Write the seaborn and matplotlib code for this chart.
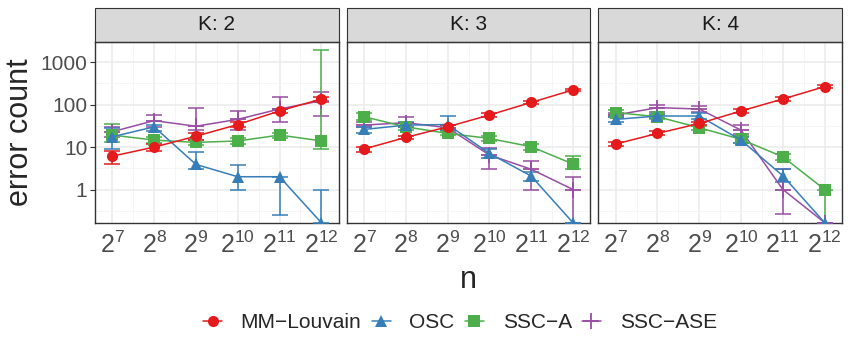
import numpy as np
import pandas as pd
import matplotlib
matplotlib.use('Agg')
import matplotlib.pyplot as plt
import seaborn as sns
from matplotlib.patches import Rectangle
from matplotlib.lines import Line2D
from matplotlib.ticker import FixedLocator, NullFormatter

# x values and facets
n = [128, 256, 512, 1024, 2048, 4096]
x_labels = [r'$\mathregular{2^{7}}$', r'$\mathregular{2^{8}}$', r'$\mathregular{2^{9}}$',
            r'$\mathregular{2^{10}}$', r'$\mathregular{2^{11}}$', r'$\mathregular{2^{12}}$']
panels = ['K: 2', 'K: 3', 'K: 4']
methods = ['MM\u2212Louvain', 'OSC', 'SSC\u2212A', 'SSC\u2212ASE']

# values per method: K=2 (6 values), K=3 (6), K=4 (6); 0 means no errors
louvain_mean = [6.1, 10, 18, 34, 71, 136,   9.0, 16.9, 30, 57, 113, 222,   11.8, 21, 36, 71, 136, 266]
louvain_lo   = [4.0, 8.1, 15, 29, 62, 118,  7.8, 15.5, 27, 52, 104, 205,   10.5, 19, 33, 65, 125, 245]
louvain_hi   = [8.2, 12, 21, 40, 80, 150,   10.3, 18.5, 33, 62, 122, 240,  13.2, 23.5, 40, 77, 148, 290]

osc_mean = [17.5, 30, 3.9, 2.0, 2.0, 0,   26, 33, 34, 7.1, 2.07, 0,   45, 54, 54, 14.6, 2.1, 0]
osc_lo   = [9.0, 24, 3.1, 1.0, 0.25, 0,   22, 29, 25, 5.5, 1.6, 0,    40, 48, 45, 12.5, 1.5, 0]
osc_hi   = [28, 34, 7.7, 3.7, 2.0, 1.0,   30, 38, 54, 9.0, 2.6, 0,    50, 60, 62, 17, 3.0, 0]

ssca_mean = [19.2, 14.6, 12.9, 13.9, 19.2, 14,   52, 30, 21, 16, 10.2, 4.0,   65, 52, 28.6, 15.2, 5.9, 1.0]
ssca_lo   = [13.4, 12.5, 11.5, 12, 16.5, 9.0,    44, 25, 19, 14, 8.5, 3.1,    56, 46, 25, 12.5, 5.0, 0]
ssca_hi   = [35, 17, 14.5, 16, 22, 1950,         62, 36, 24, 18.5, 12, 6.0,   74, 58, 32, 18, 7.0, 1.0]

sscase_mean = [23, 42, 31, 45, 79, 124,   33, 37.6, 28.6, 6.5, 3.0, 1.0,   57, 85, 79, 25, 1.0, 0]
sscase_lo   = [17, 30, 25, 25, 38, 54,    29, 30, 25, 3.0, 1.0, 0,         50, 68, 66, 20, 0.26, 0]
sscase_hi   = [29, 58, 82, 72, 150, 195,  38, 52, 33, 9.3, 4.75, 2.0,      64, 100, 95, 33, 3.0, 0]

colors = ['#E41A1C', '#377EB8', '#4DAF4A', '#984EA3']
markers = ['o', '^', 's', '+']
msizes = [8, 9, 8, 12]

means = [louvain_mean, osc_mean, ssca_mean, sscase_mean]
los = [louvain_lo, osc_lo, ssca_lo, sscase_lo]
his = [louvain_hi, osc_hi, ssca_hi, sscase_hi]

rows = []
for m, mean, lo, hi in zip(methods, means, los, his):
    for i, k in enumerate(panels):
        for j, nv in enumerate(n):
            idx = i * 6 + j
            rows.append({'method': m, 'K': k, 'n': nv, 'err': mean[idx], 'lo': lo[idx], 'hi': hi[idx]})
df = pd.DataFrame(rows)

sns.set_theme(style='white')
plt.rcParams['font.family'] = ['Liberation Sans', 'DejaVu Sans']
plt.rcParams['mathtext.fontset'] = 'custom'
plt.rcParams['mathtext.rm'] = 'Liberation Sans'
plt.rcParams['mathtext.it'] = 'Liberation Sans:italic'
plt.rcParams['mathtext.bf'] = 'Liberation Sans:bold'

ymin, ymax = 0.165, 3000
xmin, xmax = 2 ** (7 - 0.415), 2 ** (12 + 0.415)

fig, axes = plt.subplots(1, 3, figsize=(8.5, 3.5), dpi=100, sharey=True)
fig.subplots_adjust(left=95 / 850, right=842 / 850, top=1 - 42 / 350, bottom=1 - 222.7 / 350, wspace=0.033)

for ax, k in zip(axes, panels):
    ax.set_xscale('log', base=2)
    ax.set_yscale('log')
    ax.set_xlim(xmin, xmax)
    ax.set_ylim(ymin, ymax)
    sub_k = df[df['K'] == k]
    # draw in reverse so MM-Louvain ends up on top
    for m, c, mk, ms in list(zip(methods, colors, markers, msizes))[::-1]:
        sub = sub_k[sub_k['method'] == m].copy()
        sub['y'] = np.where(sub['err'] > 0, sub['err'], ymin)
        lo = np.where(sub['lo'] > 0, sub['lo'], ymin)
        hi = np.where(sub['hi'] > 0, sub['hi'], ymin)
        ax.errorbar(sub['n'], sub['y'], yerr=[sub['y'] - lo, hi - sub['y']], fmt='none',
                    ecolor=c, elinewidth=1.1, capsize=5.5, capthick=1.1, zorder=3)
        sns.lineplot(data=sub, x='n', y='y', color=c, marker=mk, markersize=ms,
                     mec=c, mew=1.3 if mk == '+' else 0, linewidth=1.1,
                     errorbar=None, ax=ax, zorder=4)
    ax.set_xticks(n)
    ax.set_xticklabels(x_labels, fontsize=18)
    ax.xaxis.set_minor_locator(FixedLocator([2 ** (e + 0.5) for e in range(7, 12)]))
    ax.xaxis.set_minor_formatter(NullFormatter())
    ax.set_yticks([1, 10, 100, 1000])
    ax.set_yticklabels(['1', '10', '100', '1000'], fontsize=15)
    ax.yaxis.set_minor_locator(FixedLocator([10 ** (e + 0.5) for e in range(-1, 3)]))
    ax.yaxis.set_minor_formatter(NullFormatter())
    ax.grid(which='major', color='#EBEBEB', linewidth=1.1, zorder=0)
    ax.grid(which='minor', color='#F4F4F4', linewidth=0.6, zorder=0)
    ax.set_axisbelow(True)
    ax.tick_params(which='major', length=3.5, width=0.8, color='#333333', labelcolor='#4D4D4D', pad=2)
    ax.tick_params(axis='x', pad=3)
    ax.tick_params(which='minor', length=0)
    ax.tick_params(axis='y', left=(ax is axes[0]))
    for s in ax.spines.values():
        s.set_color('#333333')
        s.set_linewidth(1.0)
    ax.set_xlabel('')
    ax.set_ylabel('')
    h = 34 / 180.7
    ax.add_patch(Rectangle((0, 1), 1, h, transform=ax.transAxes, facecolor='#D9D9D9',
                           edgecolor='#333333', linewidth=0.8, clip_on=False))
    ax.text(0.5, 1 + h / 2, k, transform=ax.transAxes, ha='center', va='center',
            fontsize=15, color='#1A1A1A')

fig.text(20 / 850, 1 - 132 / 350, 'error count', rotation=90, ha='center', va='center', fontsize=22)
fig.text(468 / 850, 1 - 280 / 350, 'n', ha='center', va='center', fontsize=22)

handles = [Line2D([], [], color=c, marker=mk, markersize=ms, mec=c, mew=1.3 if mk == '+' else 0,
                  linewidth=1.1) for c, mk, ms in zip(colors, markers, msizes)]
fig.legend(handles, methods, loc='center', bbox_to_anchor=(460 / 850, 1 - 323 / 350), ncol=4,
           frameon=False, fontsize=15, handlelength=0.9, handletextpad=0.9, columnspacing=0.5)

fig.savefig('out.png', dpi=100)
